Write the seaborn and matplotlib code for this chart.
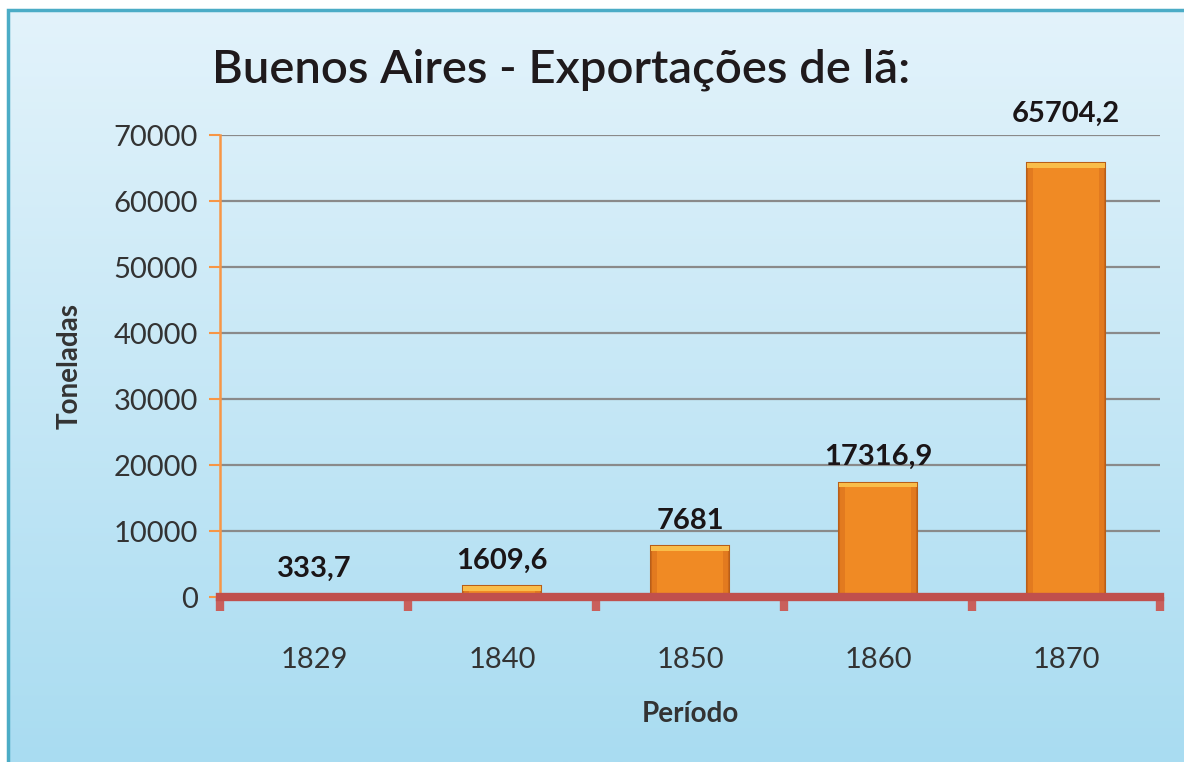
import numpy as np
import pandas as pd
import matplotlib
matplotlib.use("Agg")
import matplotlib.pyplot as plt
import matplotlib.patches as mpatches
from matplotlib.colors import LinearSegmentedColormap
import seaborn as sns

# data
periods = ["1829", "1840", "1850", "1860", "1870"]
tons = [333.7, 1609.6, 7681, 17316.9, 65704.2]
value_labels = ["333,7", "1609,6", "7681", "17316,9", "65704,2"]

df = pd.DataFrame({"Período": periods, "Toneladas": tons})

sns.set_theme(style="white")
plt.rcParams["font.family"] = ["Lato", "DejaVu Sans"]

fig = plt.figure(figsize=(11.84, 7.62), dpi=100)
fig.patch.set_facecolor("white")

# gradient background panel with teal border
bg = fig.add_axes([8 / 1184, 0, 1 - 8 / 1184, 1 - 10 / 762], zorder=0)
grad = np.linspace(0, 1, 256).reshape(-1, 1)
cmap = LinearSegmentedColormap.from_list("bgblue", ["#e3f3fb", "#a9dcf1"])
bg.imshow(grad, aspect="auto", cmap=cmap, extent=[0, 1, 0, 1], origin="upper")
bg.set_xlim(0, 1)
bg.set_ylim(0, 1)
bg.axis("off")
fig.patches.append(mpatches.Rectangle((8 / 1184, -0.02), 1.1, 1 - 10 / 762 + 0.02,
                                      transform=fig.transFigure, fill=False,
                                      edgecolor="#4bacc6", lw=2.5, zorder=1))

ax = fig.add_axes([220 / 1184, 1 - 597 / 762, 940 / 1184, 462 / 762], zorder=2)
ax.patch.set_alpha(0)

sns.barplot(data=df, x="Período", y="Toneladas", ax=ax, color="#f08a24",
            width=0.42, edgecolor="#b85e18", linewidth=1.5, saturation=1, zorder=3)

ymax = 70000

# lighter top cap and darker sides on each bar
bars = list(ax.patches)
for p in bars:
    h = p.get_height()
    cap = min(h, 700)
    x0, w = p.get_x(), p.get_width()
    ax.add_patch(mpatches.Rectangle((x0, h - cap), w, cap,
                                    facecolor="#f9bd4a", edgecolor="none", zorder=4))
    for sx in (x0, x0 + w * 0.92):
        ax.add_patch(mpatches.Rectangle((sx, 0), w * 0.08, h - cap,
                                        facecolor="#d9701c", edgecolor="none",
                                        alpha=0.6, zorder=4))

# value labels; the tallest one gets pushed above the plot top like Excel does
for p, lab in zip(bars, value_labels):
    y = p.get_height()
    pad = 9
    if y > ymax * 0.9:
        y, pad = ymax, 6
    ax.annotate(lab, (p.get_x() + p.get_width() / 2, y),
                xytext=(0, pad), textcoords="offset points", ha="center", va="bottom",
                fontsize=21, fontweight="bold", color="#1a1517", zorder=5,
                annotation_clip=False)

ax.set_ylim(0, ymax)
ax.set_xlim(-0.5, 4.5)
ax.set_yticks(np.arange(0, ymax + 1, 10000))
ax.yaxis.grid(True, color="#8a8a8a", lw=1.6, zorder=1)
ax.set_axisbelow(True)

# x ticks: marks on category boundaries, labels at centers
ax.set_xticks(np.arange(-0.5, 5, 1))
ax.set_xticklabels([])
ax.set_xticks(range(len(periods)), minor=True)
ax.set_xticklabels(periods, minor=True)
ax.tick_params(axis="x", which="major", direction="out", length=10, width=6,
               color="#c9605c", bottom=True)
ax.tick_params(axis="x", which="minor", length=0, pad=36, labelsize=21,
               labelcolor="#333333")
ax.tick_params(axis="y", direction="out", length=8, width=1.5, color="#f79646",
               left=True, labelsize=21, labelcolor="#333333", pad=8)

for s in ["top", "right"]:
    ax.spines[s].set_visible(False)
ax.spines["left"].set_color("#f79646")
ax.spines["left"].set_linewidth(1.8)
ax.spines["bottom"].set_color("#c0504d")
ax.spines["bottom"].set_linewidth(6)
ax.spines["bottom"].set_zorder(6)

ax.set_xlabel("Período", fontsize=20, fontweight="bold", color="#333333", labelpad=20)
ax.set_ylabel("Toneladas", fontsize=20, fontweight="bold", color="#333333", labelpad=22)

fig.text(212 / 1184, 1 - 70 / 762, "Buenos Aires - Exportações de lã:", fontsize=34,
         fontweight="semibold", color="#1f1a1c", ha="left", va="center", zorder=5)

fig.savefig("out.png", dpi=100)
